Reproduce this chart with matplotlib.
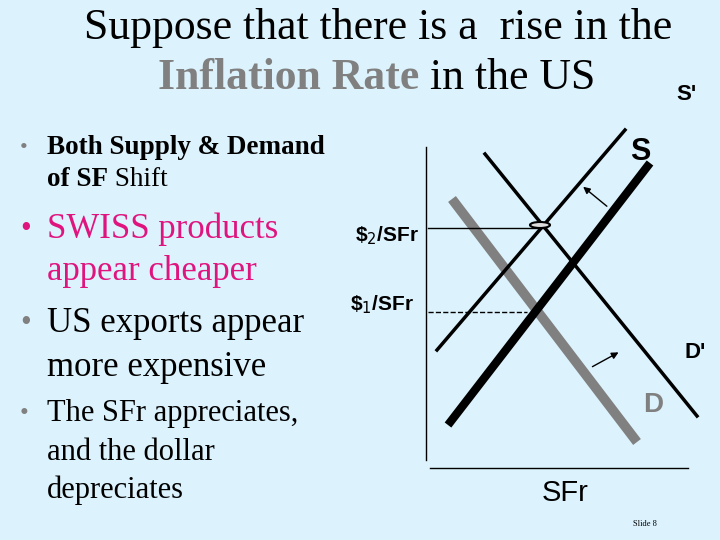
import matplotlib.pyplot as plt
from matplotlib.patches import Ellipse

bg = '#dcf2fc'
serif = 'Liberation Serif'
sans = 'Liberation Sans'

# curve endpoints (slide pixel coords)
s_x, s_y = [448, 650], [425, 163]
s2_x, s2_y = [437, 625], [350, 130]
d_x, d_y = [452, 637], [199, 442]
d2_x, d2_y = [485, 697], [154, 416]
p2_y, p1_y = 228, 312

fig = plt.figure(figsize=(7.2, 5.4), dpi=100, facecolor=bg)
ax = fig.add_axes([0, 0, 1, 1])
ax.set_xlim(0, 720)
ax.set_ylim(540, 0)
ax.axis('off')
ax.set_facecolor(bg)

# axes of the diagram
ax.plot([426, 426], [147, 460], color='black', lw=1)
ax.plot([430, 688], [468, 468], color='black', lw=1)

ax.plot(d_x, d_y, color='#808080', lw=7, solid_capstyle='butt')
ax.plot(s_x, s_y, color='black', lw=6, solid_capstyle='butt')
ax.plot(s2_x, s2_y, color='black', lw=2.5)
ax.plot(d2_x, d2_y, color='black', lw=2.5)

ax.plot([428, 543], [p2_y, p2_y], color='black', lw=1)
ax.plot([428, 527], [p1_y, p1_y], color='black', lw=1, ls='--')
ax.add_patch(Ellipse((540, 225), 20, 6, facecolor='#dddddd', edgecolor='black', lw=1.5, zorder=5))

for (x0, y0, x1, y1) in [(609, 208, 581, 185), (590, 368, 621, 351)]:
    ax.annotate('', xy=(x1, y1), xytext=(x0, y0),
                arrowprops=dict(arrowstyle='-|>', color='black', lw=1, mutation_scale=10))

# curve labels
ax.text(640, 152, 'S', family=sans, fontsize=22, weight='bold', ha='center', va='center')
ax.text(686, 95, "S'", family=sans, fontsize=16, weight='bold', ha='center', va='center')
ax.text(695, 353, "D'", family=sans, fontsize=16, weight='bold', ha='center', va='center')
ax.text(653, 405, 'D', family=sans, fontsize=20, weight='bold', color='#808080', ha='center', va='center')
ax.text(565, 493, 'SFr', family=sans, fontsize=21, ha='center', va='center')
ax.text(355, 236, r'\$$_2$/SFr', family=sans, fontsize=15, weight='bold', va='center')
ax.text(350, 305, r'\$$_1$/SFr', family=sans, fontsize=15, weight='bold', va='center')
ax.text(633, 524, 'Slide 8', family=serif, fontsize=6, va='center')

# title
ax.text(378, 28, 'Suppose that there is a  rise in the', family=serif, fontsize=31.5, ha='center', va='center')
t = ax.text(158, 78, 'Inflation Rate', family=serif, fontsize=31.5, weight='bold', color='#808080', va='center')
ax.annotate(' in the US', xycoords=t, xy=(1, 0.5), va='center', family=serif, fontsize=31.5)

# bullets
ax.text(20, 148, '•', family=serif, fontsize=16, va='center', color='#808080')
ax.text(47, 148, 'Both Supply & Demand', family=serif, fontsize=19.5, weight='bold', va='center')
t = ax.text(47, 180, 'of SF', family=serif, fontsize=19.5, weight='bold', va='center')
ax.annotate(' Shift', xycoords=t, xy=(1, 0.5), va='center', family=serif, fontsize=19.5)

mag = '#e0147f'
ax.text(20, 229, '•', family=serif, fontsize=22, va='center', color=mag)
ax.text(47, 229, 'SWISS products', family=serif, fontsize=25, va='center', color=mag)
ax.text(47, 271, 'appear cheaper', family=serif, fontsize=25, va='center', color=mag)
ax.text(20, 324, '•', family=serif, fontsize=22, va='center', color='#808080')
ax.text(47, 324, 'US exports appear', family=serif, fontsize=25, va='center')
ax.text(47, 367, 'more expensive', family=serif, fontsize=25, va='center')

ax.text(20, 414, '•', family=serif, fontsize=18, va='center', color='#808080')
ax.text(47, 414, 'The SFr appreciates,', family=serif, fontsize=22, va='center')
ax.text(47, 453, 'and the dollar', family=serif, fontsize=22, va='center')
ax.text(47, 490, 'depreciates', family=serif, fontsize=22, va='center')

fig.savefig('out.png', dpi=100, facecolor=bg)
